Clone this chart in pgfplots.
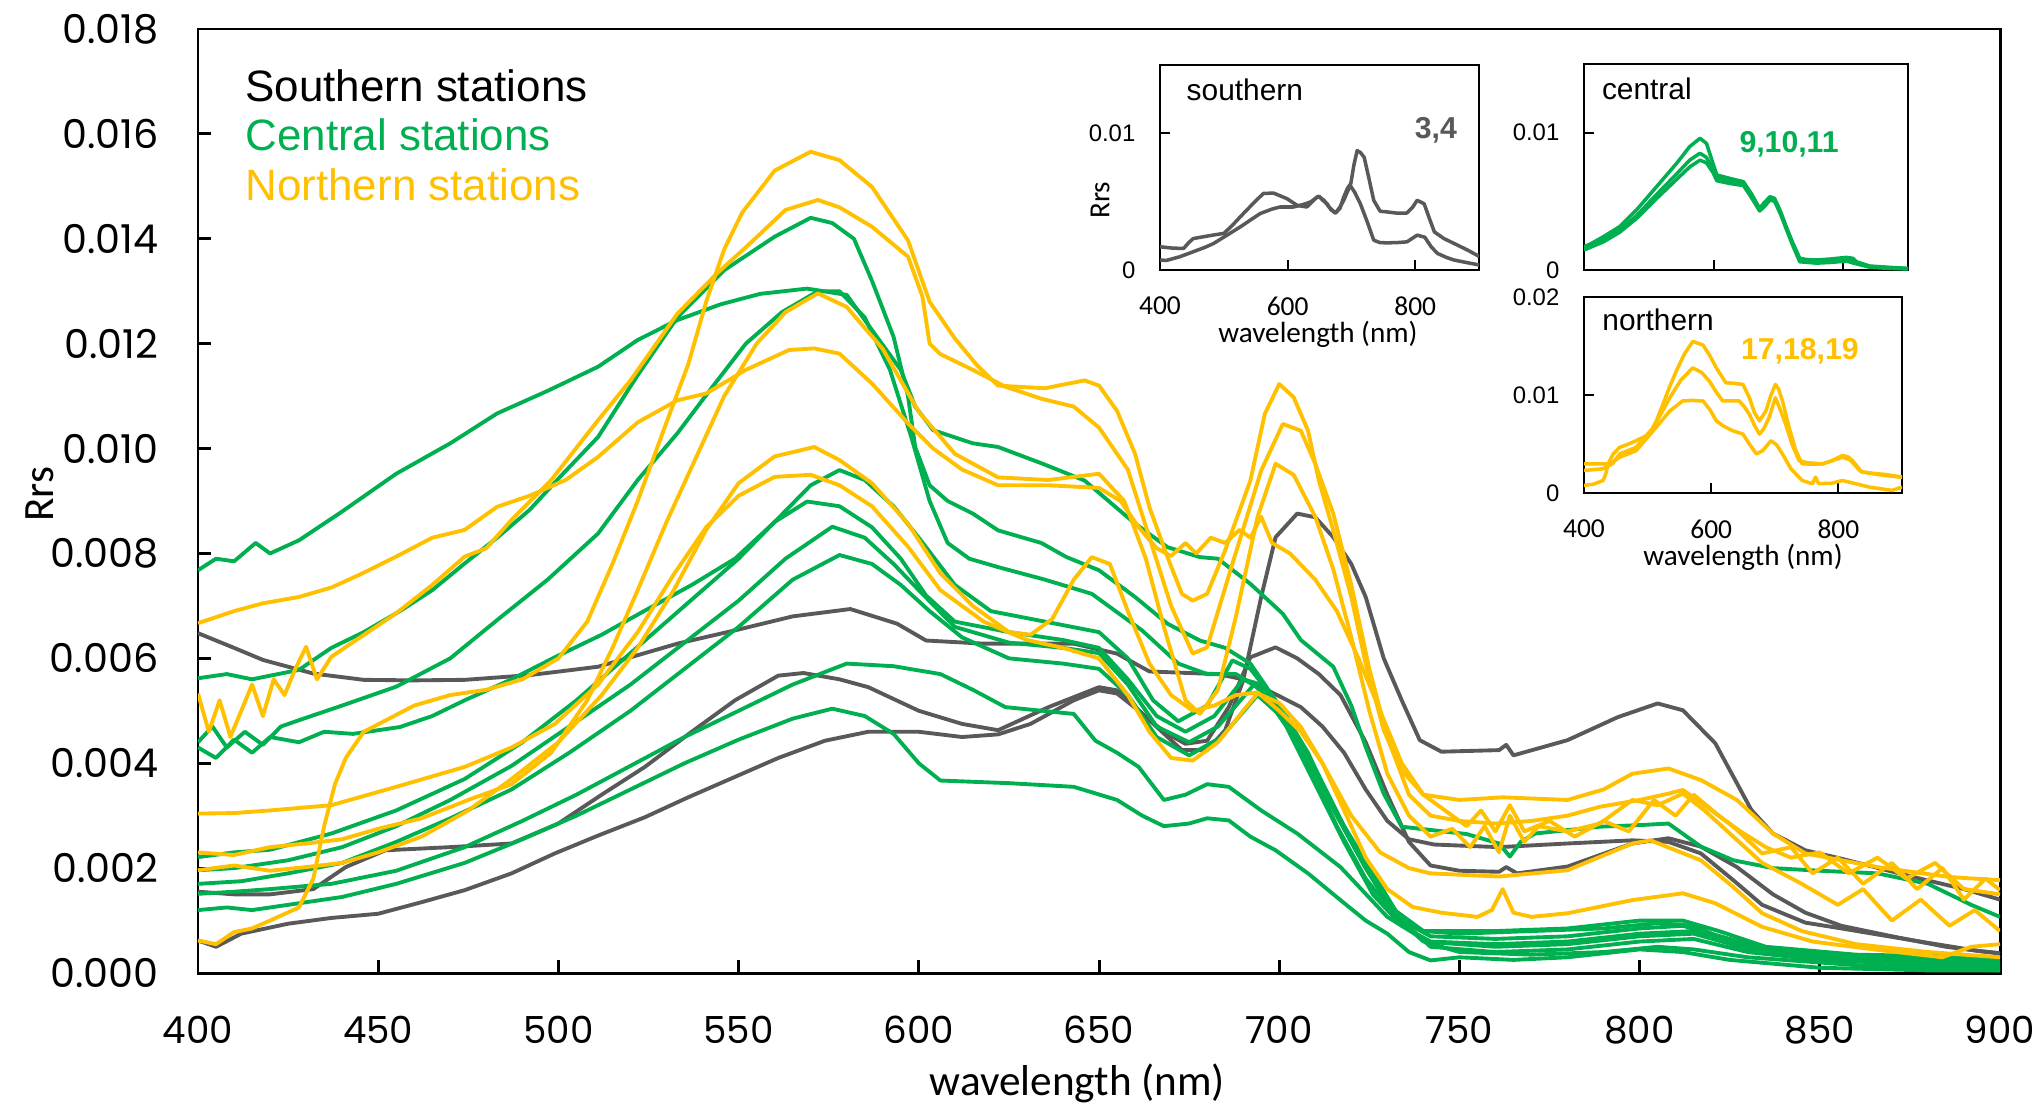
\documentclass[border=0pt]{standalone}
\usepackage{fontspec}
\usepackage{pgfplots}
\pgfplotsset{compat=1.18}
\setmainfont{Liberation Sans}
\newfontfamily\carl{Carlito}
\newfontfamily\pop{Poppins}
\definecolor{sgray}{RGB}{89,89,89}
\definecolor{cgreen}{RGB}{0,176,80}
\definecolor{nyellow}{RGB}{255,192,0}
\pgfplotsset{
  inset/.style={scale only axis, xmin=400, xmax=900, ymin=0,
    scaled y ticks=false, scaled x ticks=false,
    axis line style={line width=0.6pt}, tick align=inside,
    xtick pos=bottom, ytick pos=left,
    major tick length=1mm, tick style={black, line width=0.6pt},
    axis background/.style={fill=white},
    xtick={400,600,800},
    xticklabel style={anchor=center, inner sep=0pt, yshift=-3.6mm, font=\carl\fontsize{7.8}{9}\selectfont},
    yticklabel style={anchor=east, inner sep=0pt, xshift=-2.4mm, font=\fontsize{6.8}{8}\selectfont},
    every axis plot/.append style={line width=1pt, line join=round},
  },
}
\begin{document}
\begin{tikzpicture}
\useasboundingbox (-1.98cm,-1.34cm) rectangle (18.42cm,9.73cm);
\begin{axis}[scale only axis, at={(0cm,0cm)}, anchor=south west,
  width=18.02cm, height=9.44cm,
  xmin=400, xmax=900, ymin=0, ymax=0.018,
  xtick={400,450,500,550,600,650,700,750,800,850,900},
  ytick={0,0.002,0.004,0.006,0.008,0.010,0.012,0.014,0.016,0.018},
  scaled y ticks=false,
  axis line style={line width=0.85pt},
  tick align=inside, xtick pos=bottom, ytick pos=left,
  major tick length=1.3mm, tick style={black, line width=0.85pt},
  /pgf/number format/assume math mode=true,
  xticklabel style={anchor=center, inner sep=0pt, yshift=-5.7mm, font=\pop\fontsize{10.6}{12}\selectfont},
  yticklabel style={anchor=east, inner sep=0pt, xshift=-3.9mm, font=\pop\fontsize{11.3}{13}\selectfont,
     /pgf/number format/.cd, fixed, fixed zerofill, precision=3},
  xlabel={wavelength (nm)}, ylabel={Rrs},
  xlabel style={at={(axis description cs:0.488,-0.1165)}, anchor=center, font=\carl\fontsize{12.3}{14}\selectfont},
  ylabel style={at={(axis description cs:-0.088,0.507)}, anchor=center, rotate=0, font=\carl\fontsize{12.3}{14}\selectfont},
  every axis plot/.append style={line width=1.1pt, line join=round},
  clip=true,
]
% ---------------- southern (gray)
\addplot[sgray] coordinates {(400,6.48e-3)(410,6.2e-3)(418,5.97e-3)(432,5.71e-3)(446,5.59e-3)(460,5.58e-3)(474,5.59e-3)(492,5.68e-3)(511,5.84e-3)(533,6.28e-3)(550,6.55e-3)(565,6.8e-3)(581,6.94e-3)(594,6.66e-3)(602,6.34e-3)(618,6.28e-3)(643,6.28e-3)(655,6.09e-3)(664,5.75e-3)(675,5.72e-3)(683,5.7e-3)(690,5.6e-3)(698,5.35e-3)(706,5.07e-3)(712,4.7e-3)(718,4.2e-3)(724,3.5e-3)(730,2.9e-3)(736,2.55e-3)(743,2.45e-3)(761,2.4e-3)(780,2.47e-3)(798,2.53e-3)(808,2.5e-3)(817,2.28e-3)(826,1.77e-3)(834,1.3e-3)(846,0.96e-3)(856,0.85e-3)(876,0.62e-3)(894,0.42e-3)(900,0.38e-3)};
\addplot[sgray] coordinates {(400,1.55e-3)(410,1.5e-3)(420,1.5e-3)(432,1.6e-3)(441,2.02e-3)(452,2.34e-3)(470,2.4e-3)(487,2.47e-3)(500,2.85e-3)(512,3.4e-3)(524,3.93e-3)(537,4.6e-3)(549,5.2e-3)(561,5.67e-3)(568,5.72e-3)(578,5.6e-3)(586,5.45e-3)(600,5.0e-3)(612,4.75e-3)(622,4.63e-3)(636,5.07e-3)(650,5.45e-3)(655,5.39e-3)(664,4.82e-3)(673,4.25e-3)(680,4.25e-3)(685,4.63e-3)(690,5.58e-3)(695,7.17e-3)(699,8.31e-3)(705,8.76e-3)(710,8.69e-3)(715,8.31e-3)(720,7.8e-3)(724,7.17e-3)(729,6.0e-3)(734,5.2e-3)(739,4.44e-3)(745,4.22e-3)(761,4.25e-3)(763,4.35e-3)(765,4.15e-3)(780,4.44e-3)(794,4.88e-3)(805,5.14e-3)(812,5.01e-3)(821,4.38e-3)(831,3.11e-3)(837,2.66e-3)(846,2.34e-3)(856,2.18e-3)(876,1.83e-3)(890,1.6e-3)(900,1.4e-3)};
\addplot[sgray] coordinates {(400,0.62e-3)(405,0.5e-3)(412,0.75e-3)(425,0.94e-3)(437,1.05e-3)(450,1.13e-3)(462,1.35e-3)(474,1.58e-3)(487,1.9e-3)(499,2.28e-3)(511,2.62e-3)(524,2.97e-3)(536,3.35e-3)(549,3.74e-3)(561,4.1e-3)(574,4.43e-3)(586,4.6e-3)(600,4.6e-3)(612,4.5e-3)(622,4.55e-3)(631,4.75e-3)(643,5.2e-3)(650,5.39e-3)(655,5.33e-3)(662,4.95e-3)(668,4.6e-3)(674,4.37e-3)(680,4.43e-3)(686,5.07e-3)(692,6.02e-3)(699,6.21e-3)(705,6.0e-3)(711,5.7e-3)(717,5.3e-3)(724,4.4e-3)(730,3.4e-3)(736,2.5e-3)(742,2.05e-3)(750,1.95e-3)(761,1.93e-3)(763,2.02e-3)(766,1.9e-3)(780,2.03e-3)(798,2.47e-3)(808,2.57e-3)(817,2.41e-3)(827,2.02e-3)(837,1.5e-3)(846,1.15e-3)(856,0.9e-3)(870,0.7e-3)(885,0.5e-3)(900,0.37e-3)};
% ---------------- central (green)
\addplot[cgreen] coordinates {(400,7.68e-3)(405,7.9e-3)(410,7.85e-3)(416,8.2e-3)(420,8.0e-3)(428,8.25e-3)(440,8.8e-3)(455,9.52e-3)(470,10.1e-3)(483,10.67e-3)(497,11.1e-3)(511,11.56e-3)(522,12.07e-3)(533,12.45e-3)(545,12.75e-3)(556,12.95e-3)(569,13.05e-3)(580,12.93e-3)(587,12.26e-3)(595,11.5e-3)(599,10.8e-3)(604,10.35e-3)(615,10.1e-3)(622,10.03e-3)(634,9.72e-3)(646,9.39e-3)(660,8.57e-3)(669,8.12e-3)(678,7.93e-3)(683,7.9e-3)(692,7.42e-3)(701,6.85e-3)(706,6.35e-3)(715,5.84e-3)(720,5.1e-3)(724,4.31e-3)(729,3.42e-3)(734,2.79e-3)(743,2.72e-3)(752,2.65e-3)(761,2.47e-3)(764,2.22e-3)(767,2.5e-3)(771,2.66e-3)(789,2.79e-3)(800,2.82e-3)(808,2.85e-3)(817,2.41e-3)(826,2.15e-3)(837,2.0e-3)(850,1.95e-3)(866,1.9e-3)(880,1.7e-3)(892,1.3e-3)(900,1.07e-3)};
\addplot[cgreen] coordinates {(400,5.62e-3)(408,5.7e-3)(415,5.6e-3)(428,5.78e-3)(437,6.2e-3)(446,6.5e-3)(456,6.9e-3)(465,7.3e-3)(474,7.81e-3)(483,8.3e-3)(492,8.83e-3)(501,9.5e-3)(511,10.22e-3)(522,11.4e-3)(533,12.5e-3)(546,13.4e-3)(560,14.04e-3)(570,14.4e-3)(576,14.3e-3)(582,14.0e-3)(587,13.2e-3)(593,12.13e-3)(597,11.0e-3)(599,10.03e-3)(603,9.3e-3)(608,9.0e-3)(615,8.76e-3)(622,8.44e-3)(634,8.2e-3)(641,7.93e-3)(650,7.68e-3)(660,7.17e-3)(669,6.66e-3)(678,6.34e-3)(685,6.2e-3)(692,5.9e-3)(700,5.1e-3)(708,4.0e-3)(716,2.8e-3)(724,1.8e-3)(732,1.1e-3)(740,0.8e-3)(750,0.75e-3)(770,0.8e-3)(790,0.85e-3)(805,0.95e-3)(815,0.9e-3)(825,0.6e-3)(840,0.4e-3)(860,0.3e-3)(880,0.25e-3)(900,0.2e-3)};
\addplot[cgreen] coordinates {(400,4.4e-3)(404,4.7e-3)(408,4.3e-3)(413,4.6e-3)(418,4.35e-3)(423,4.7e-3)(428,4.82e-3)(440,5.1e-3)(455,5.46e-3)(470,6.0e-3)(483,6.73e-3)(497,7.5e-3)(511,8.38e-3)(522,9.4e-3)(533,10.29e-3)(543,11.2e-3)(552,12.0e-3)(562,12.6e-3)(572,13.0e-3)(578,13.0e-3)(585,12.5e-3)(592,11.5e-3)(598,10.2e-3)(603,9.0e-3)(608,8.2e-3)(614,7.9e-3)(622,7.74e-3)(635,7.5e-3)(648,7.23e-3)(662,6.53e-3)(672,5.9e-3)(680,5.7e-3)(688,5.7e-3)(695,5.4e-3)(702,4.7e-3)(710,3.6e-3)(718,2.5e-3)(726,1.5e-3)(734,0.9e-3)(742,0.6e-3)(760,0.55e-3)(780,0.6e-3)(800,0.75e-3)(815,0.8e-3)(830,0.45e-3)(850,0.3e-3)(875,0.2e-3)(900,0.15e-3)};
\addplot[cgreen] coordinates {(400,4.3e-3)(405,4.1e-3)(410,4.45e-3)(415,4.2e-3)(420,4.5e-3)(428,4.4e-3)(435,4.6e-3)(443,4.56e-3)(456,4.69e-3)(465,4.9e-3)(474,5.2e-3)(487,5.6e-3)(499,6.02e-3)(512,6.45e-3)(524,6.91e-3)(537,7.4e-3)(549,7.9e-3)(560,8.6e-3)(570,9.3e-3)(578,9.59e-3)(585,9.4e-3)(593,8.9e-3)(600,8.3e-3)(610,7.4e-3)(620,6.9e-3)(635,6.7e-3)(650,6.5e-3)(658,6.0e-3)(665,5.2e-3)(672,4.8e-3)(680,5.1e-3)(687,5.96e-3)(692,5.8e-3)(700,5.1e-3)(708,4.2e-3)(716,3.0e-3)(724,2.0e-3)(732,1.2e-3)(740,0.8e-3)(760,0.8e-3)(780,0.85e-3)(800,1.0e-3)(812,1.0e-3)(822,0.8e-3)(835,0.5e-3)(860,0.35e-3)(900,0.3e-3)};
\addplot[cgreen] coordinates {(400,2.21e-3)(410,2.3e-3)(420,2.35e-3)(437,2.66e-3)(455,3.1e-3)(474,3.7e-3)(490,4.4e-3)(505,5.2e-3)(520,6.1e-3)(535,7.0e-3)(550,7.9e-3)(560,8.6e-3)(569,8.99e-3)(578,8.9e-3)(587,8.5e-3)(595,7.9e-3)(602,7.2e-3)(610,6.7e-3)(625,6.5e-3)(640,6.35e-3)(650,6.2e-3)(658,5.6e-3)(666,4.9e-3)(674,4.6e-3)(682,4.9e-3)(690,5.6e-3)(695,5.5e-3)(702,4.9e-3)(710,3.9e-3)(718,2.8e-3)(726,1.8e-3)(734,1.0e-3)(742,0.7e-3)(760,0.65e-3)(780,0.7e-3)(800,0.85e-3)(812,0.9e-3)(825,0.65e-3)(840,0.4e-3)(870,0.3e-3)(900,0.25e-3)};
\addplot[cgreen] coordinates {(400,1.96e-3)(410,2.0e-3)(425,2.15e-3)(440,2.4e-3)(455,2.8e-3)(470,3.3e-3)(487,3.95e-3)(503,4.7e-3)(520,5.5e-3)(535,6.3e-3)(550,7.1e-3)(563,7.9e-3)(576,8.51e-3)(585,8.3e-3)(593,7.8e-3)(600,7.3e-3)(610,6.6e-3)(625,6.3e-3)(640,6.2e-3)(650,6.1e-3)(658,5.5e-3)(666,4.7e-3)(675,4.4e-3)(683,4.7e-3)(693,5.5e-3)(700,5.0e-3)(708,4.0e-3)(716,3.0e-3)(724,2.0e-3)(732,1.1e-3)(740,0.6e-3)(760,0.5e-3)(780,0.55e-3)(800,0.7e-3)(815,0.75e-3)(828,0.5e-3)(850,0.3e-3)(875,0.2e-3)(900,0.12e-3)};
\addplot[cgreen] coordinates {(400,1.7e-3)(412,1.75e-3)(425,1.9e-3)(440,2.1e-3)(455,2.5e-3)(470,2.95e-3)(487,3.5e-3)(503,4.2e-3)(520,5.0e-3)(535,5.8e-3)(550,6.6e-3)(565,7.5e-3)(578,7.97e-3)(587,7.8e-3)(595,7.4e-3)(603,6.9e-3)(612,6.4e-3)(625,6.0e-3)(640,5.9e-3)(650,5.8e-3)(658,5.3e-3)(666,4.5e-3)(675,4.15e-3)(684,4.5e-3)(694,5.3e-3)(702,4.8e-3)(710,3.8e-3)(718,2.8e-3)(726,1.9e-3)(734,1.0e-3)(742,0.5e-3)(760,0.4e-3)(780,0.45e-3)(800,0.6e-3)(815,0.65e-3)(830,0.4e-3)(850,0.25e-3)(900,0.1e-3)};
\addplot[cgreen] coordinates {(400,1.51e-3)(410,1.55e-3)(420,1.6e-3)(437,1.7e-3)(455,1.95e-3)(474,2.4e-3)(490,2.9e-3)(505,3.4e-3)(520,3.95e-3)(535,4.5e-3)(550,5.0e-3)(565,5.5e-3)(580,5.9e-3)(593,5.85e-3)(606,5.7e-3)(615,5.4e-3)(624,5.07e-3)(643,4.94e-3)(649,4.43e-3)(655,4.2e-3)(661,3.93e-3)(668,3.3e-3)(674,3.4e-3)(680,3.6e-3)(686,3.55e-3)(695,3.1e-3)(705,2.66e-3)(717,2.02e-3)(730,1.07e-3)(742,0.56e-3)(750,0.4e-3)(770,0.35e-3)(790,0.4e-3)(805,0.5e-3)(815,0.45e-3)(830,0.3e-3)(860,0.15e-3)(900,0.05e-3)};
\addplot[cgreen] coordinates {(400,1.2e-3)(408,1.25e-3)(415,1.2e-3)(425,1.3e-3)(440,1.45e-3)(455,1.7e-3)(474,2.1e-3)(490,2.55e-3)(505,3.0e-3)(520,3.5e-3)(535,4.0e-3)(550,4.45e-3)(565,4.85e-3)(576,5.04e-3)(585,4.9e-3)(593,4.56e-3)(600,4.0e-3)(606,3.67e-3)(625,3.62e-3)(643,3.55e-3)(655,3.3e-3)(662,3.0e-3)(668,2.8e-3)(675,2.85e-3)(680,2.95e-3)(686,2.91e-3)(692,2.6e-3)(699,2.34e-3)(708,1.9e-3)(717,1.39e-3)(724,1.0e-3)(730,0.75e-3)(736,0.4e-3)(742,0.24e-3)(750,0.3e-3)(765,0.25e-3)(780,0.3e-3)(800,0.45e-3)(812,0.4e-3)(825,0.25e-3)(850,0.1e-3)(880,0.05e-3)(900,0.05e-3)};
% ---------------- northern (yellow)
\addplot[nyellow] coordinates {(400,0.62e-3)(405,0.55e-3)(410,0.78e-3)(415,0.85e-3)(420,1.0e-3)(428,1.25e-3)(432,1.8e-3)(435,2.8e-3)(438,3.6e-3)(441,4.1e-3)(446,4.6e-3)(453,4.85e-3)(460,5.1e-3)(470,5.3e-3)(480,5.4e-3)(490,5.6e-3)(500,6.0e-3)(508,6.7e-3)(515,7.8e-3)(522,9.0e-3)(530,10.5e-3)(536,11.6e-3)(541,12.8e-3)(546,13.8e-3)(551,14.5e-3)(560,15.3e-3)(570,15.66e-3)(578,15.5e-3)(587,14.99e-3)(597,13.97e-3)(603,12.8e-3)(610,12.1e-3)(616,11.6e-3)(622,11.2e-3)(635,11.15e-3)(646,11.3e-3)(650,11.2e-3)(655,10.72e-3)(660,9.9e-3)(664,8.88e-3)(669,7.93e-3)(673,7.23e-3)(676,7.1e-3)(680,7.23e-3)(685,8.06e-3)(692,9.39e-3)(696,10.66e-3)(700,11.23e-3)(704,10.98e-3)(708,10.34e-3)(711,9.39e-3)(715,8.44e-3)(720,7.17e-3)(724,5.9e-3)(729,4.63e-3)(734,3.86e-3)(740,3.4e-3)(750,3.3e-3)(762,3.35e-3)(780,3.3e-3)(790,3.5e-3)(798,3.8e-3)(808,3.9e-3)(817,3.68e-3)(827,3.3e-3)(837,2.66e-3)(846,2.28e-3)(866,2.02e-3)(886,1.83e-3)(900,1.77e-3)};
\addplot[nyellow] coordinates {(400,5.33e-3)(403,4.6e-3)(406,5.2e-3)(409,4.5e-3)(412,5.0e-3)(415,5.5e-3)(418,4.9e-3)(421,5.6e-3)(424,5.3e-3)(427,5.8e-3)(430,6.22e-3)(433,5.6e-3)(437,6.03e-3)(445,6.4e-3)(455,6.86e-3)(465,7.4e-3)(474,7.94e-3)(480,8.1e-3)(487,8.64e-3)(498,9.4e-3)(511,10.54e-3)(520,11.3e-3)(533,12.57e-3)(544,13.34e-3)(553,13.9e-3)(563,14.55e-3)(572,14.74e-3)(578,14.6e-3)(587,14.23e-3)(597,13.66e-3)(601,12.9e-3)(603,12.0e-3)(606,11.8e-3)(615,11.5e-3)(624,11.18e-3)(634,10.95e-3)(643,10.8e-3)(650,10.4e-3)(658,9.6e-3)(664,8.3e-3)(670,7.0e-3)(676,6.09e-3)(680,6.21e-3)(687,7.8e-3)(695,9.58e-3)(701,10.47e-3)(706,10.34e-3)(710,9.71e-3)(715,8.76e-3)(720,7.4e-3)(725,5.8e-3)(730,4.5e-3)(736,3.4e-3)(742,3.0e-3)(750,2.9e-3)(760,2.85e-3)(770,2.9e-3)(780,3.0e-3)(789,3.17e-3)(800,3.3e-3)(808,3.42e-3)(812,3.49e-3)(818,3.2e-3)(826,2.79e-3)(834,2.28e-3)(842,2.4e-3)(848,1.9e-3)(855,2.2e-3)(862,1.7e-3)(870,2.1e-3)(877,1.6e-3)(884,2.0e-3)(890,1.4e-3)(896,1.8e-3)(900,1.58e-3)};
\addplot[nyellow] coordinates {(400,2.3e-3)(410,2.25e-3)(420,2.4e-3)(430,2.47e-3)(440,2.55e-3)(450,2.75e-3)(462,2.95e-3)(475,3.3e-3)(487,3.6e-3)(498,4.2e-3)(508,5.2e-3)(515,6.2e-3)(522,7.3e-3)(530,8.6e-3)(538,9.8e-3)(546,11.0e-3)(555,12.0e-3)(563,12.6e-3)(572,12.96e-3)(580,12.7e-3)(590,11.9e-3)(600,10.7e-3)(610,9.9e-3)(622,9.45e-3)(636,9.4e-3)(650,9.52e-3)(657,9.0e-3)(663,7.9e-3)(668,6.6e-3)(674,5.2e-3)(678,4.94e-3)(683,5.4e-3)(688,6.8e-3)(694,8.7e-3)(699,9.71e-3)(704,9.5e-3)(710,8.7e-3)(715,7.7e-3)(720,6.4e-3)(725,5.0e-3)(730,3.8e-3)(736,3.0e-3)(742,2.6e-3)(748,2.75e-3)(753,2.4e-3)(757,2.8e-3)(761,2.3e-3)(764,3.0e-3)(768,2.5e-3)(772,2.8e-3)(780,2.7e-3)(789,2.85e-3)(798,3.3e-3)(805,3.2e-3)(812,3.42e-3)(818,3.1e-3)(826,2.6e-3)(834,2.1e-3)(845,1.7e-3)(855,1.3e-3)(862,1.6e-3)(870,1.0e-3)(878,1.4e-3)(886,0.9e-3)(893,1.2e-3)(900,0.8e-3)};
\addplot[nyellow] coordinates {(400,6.67e-3)(410,6.9e-3)(418,7.05e-3)(428,7.17e-3)(437,7.35e-3)(445,7.6e-3)(455,7.94e-3)(465,8.3e-3)(474,8.45e-3)(483,8.89e-3)(492,9.1e-3)(502,9.4e-3)(511,9.84e-3)(522,10.5e-3)(533,10.92e-3)(541,11.05e-3)(552,11.5e-3)(564,11.88e-3)(571,11.91e-3)(578,11.81e-3)(587,11.24e-3)(597,10.48e-3)(604,10.0e-3)(612,9.6e-3)(622,9.3e-3)(636,9.3e-3)(650,9.25e-3)(656,9.0e-3)(661,8.5e-3)(666,8.1e-3)(670,7.95e-3)(674,8.2e-3)(677,8.0e-3)(681,8.3e-3)(685,8.2e-3)(689,8.45e-3)(692,8.3e-3)(695,8.7e-3)(698,8.2e-3)(703,8.0e-3)(710,7.5e-3)(716,6.9e-3)(722,6.0e-3)(728,5.0e-3)(734,4.0e-3)(740,3.4e-3)(746,3.1e-3)(752,2.8e-3)(756,3.1e-3)(760,2.7e-3)(764,3.2e-3)(768,2.7e-3)(775,2.9e-3)(782,2.6e-3)(790,2.9e-3)(797,2.7e-3)(804,3.3e-3)(810,3.0e-3)(815,3.4e-3)(822,3.0e-3)(828,2.7e-3)(835,2.4e-3)(842,2.2e-3)(850,2.3e-3)(858,1.9e-3)(866,2.2e-3)(874,1.8e-3)(882,2.1e-3)(890,1.6e-3)(900,1.5e-3)};
\addplot[nyellow] coordinates {(400,1.96e-3)(410,2.05e-3)(420,1.95e-3)(430,2.02e-3)(440,2.1e-3)(450,2.3e-3)(462,2.6e-3)(475,3.1e-3)(487,3.7e-3)(500,4.4e-3)(512,5.3e-3)(522,6.2e-3)(532,7.3e-3)(541,8.45e-3)(550,9.34e-3)(560,9.85e-3)(571,10.03e-3)(578,9.78e-3)(587,9.34e-3)(597,8.57e-3)(606,7.62e-3)(615,7.0e-3)(625,6.5e-3)(631,6.45e-3)(637,6.75e-3)(643,7.5e-3)(648,7.93e-3)(653,7.8e-3)(658,6.9e-3)(664,5.9e-3)(670,5.3e-3)(676,5.0e-3)(682,5.1e-3)(688,5.3e-3)(694,5.35e-3)(700,5.0e-3)(706,4.6e-3)(712,4.0e-3)(720,3.0e-3)(728,2.3e-3)(736,2.0e-3)(742,1.9e-3)(761,1.84e-3)(780,1.96e-3)(798,2.47e-3)(803,2.53e-3)(817,2.15e-3)(826,1.64e-3)(834,1.14e-3)(845,0.8e-3)(860,0.55e-3)(880,0.4e-3)(900,0.3e-3)};
\addplot[nyellow] coordinates {(400,3.04e-3)(410,3.05e-3)(420,3.1e-3)(437,3.2e-3)(455,3.55e-3)(474,3.93e-3)(487,4.3e-3)(499,4.75e-3)(511,5.5e-3)(522,6.5e-3)(532,7.6e-3)(541,8.5e-3)(550,9.1e-3)(560,9.46e-3)(570,9.5e-3)(578,9.3e-3)(587,8.9e-3)(597,8.13e-3)(606,7.3e-3)(618,6.7e-3)(630,6.35e-3)(640,6.2e-3)(650,6.0e-3)(658,5.3e-3)(664,4.6e-3)(670,4.1e-3)(676,4.05e-3)(683,4.4e-3)(690,5.0e-3)(694,5.33e-3)(700,5.15e-3)(706,4.69e-3)(712,4.0e-3)(718,3.1e-3)(724,2.2e-3)(730,1.6e-3)(737,1.26e-3)(745,1.15e-3)(755,1.07e-3)(759,1.2e-3)(762,1.6e-3)(765,1.15e-3)(770,1.07e-3)(780,1.14e-3)(798,1.39e-3)(812,1.52e-3)(821,1.33e-3)(834,0.88e-3)(848,0.6e-3)(865,0.45e-3)(884,0.3e-3)(892,0.5e-3)(900,0.55e-3)};
% legend text
\node[anchor=west, inner sep=0pt, font=\fontsize{12.5}{14}\selectfont, text=black] at (rel axis cs:0.026,0.9396) {Southern stations};
\node[anchor=west, inner sep=0pt, font=\fontsize{12.5}{14}\selectfont, text=cgreen] at (rel axis cs:0.026,0.8877) {Central stations};
\node[anchor=west, inner sep=0pt, font=\fontsize{12.5}{14}\selectfont, text=nyellow] at (rel axis cs:0.026,0.8347) {Northern stations};
\end{axis}
% ---------------- southern inset
\begin{axis}[inset, at={(9.62cm,7.03cm)}, anchor=south west, width=3.19cm, height=2.05cm,
  ymax=0.015, ytick={0,0.01}, yticklabels={0,0.01}, xticklabels={400,600,800},
  xlabel={wavelength (nm)}, ylabel={Rrs},
  xlabel style={at={(axis description cs:0.495,-0.315)}, anchor=center, font=\carl\fontsize{8.3}{9}\selectfont},
  ylabel style={at={(axis description cs:-0.188,0.34)}, anchor=center, font=\carl\fontsize{8.3}{9}\selectfont},
]
\addplot[sgray] coordinates {(400,1.7e-3)(420,1.6e-3)(437,1.58e-3)(445,2.0e-3)(452,2.3e-3)(470,2.45e-3)(484,2.56e-3)(500,2.68e-3)(512,3.2e-3)(526,3.9e-3)(546,4.87e-3)(562,5.6e-3)(578,5.63e-3)(599,5.22e-3)(615,4.73e-3)(630,4.61e-3)(646,5.34e-3)(650,5.35e-3)(657,5.1e-3)(665,4.6e-3)(675,4.17e-3)(682,4.5e-3)(688,5.34e-3)(694,6.0e-3)(699,6.31e-3)(704,7.7e-3)(709,8.74e-3)(714,8.6e-3)(720,8.25e-3)(727,6.8e-3)(735,5.1e-3)(745,4.3e-3)(756,4.25e-3)(770,4.17e-3)(787,4.17e-3)(796,4.6e-3)(803,5.1e-3)(814,4.85e-3)(822,3.8e-3)(830,2.79e-3)(845,2.3e-3)(861,1.94e-3)(882,1.46e-3)(900,1.0e-3)};
\addplot[sgray] coordinates {(400,0.73e-3)(410,0.7e-3)(431,0.97e-3)(450,1.3e-3)(470,1.65e-3)(484,1.94e-3)(505,2.55e-3)(526,3.16e-3)(540,3.6e-3)(557,4.13e-3)(575,4.45e-3)(588,4.61e-3)(609,4.61e-3)(625,4.8e-3)(636,4.98e-3)(649,5.41e-3)(655,5.1e-3)(662,4.85e-3)(668,4.4e-3)(675,4.17e-3)(682,4.6e-3)(688,5.1e-3)(698,6.19e-3)(705,5.7e-3)(714,4.85e-3)(725,3.5e-3)(735,2.18e-3)(745,2.0e-3)(756,1.99e-3)(770,2.0e-3)(787,2.06e-3)(803,2.55e-3)(815,2.4e-3)(825,1.7e-3)(835,1.21e-3)(850,0.9e-3)(861,0.73e-3)(880,0.55e-3)(900,0.37e-3)};
\node[font=\fontsize{8.5}{10}\selectfont] at (axis description cs:0.266,0.878) {southern};
\node[font=\bfseries\fontsize{8.6}{10}\selectfont, text=sgray] at (axis description cs:0.865,0.683) {3,4};
\end{axis}
% ---------------- central inset
\begin{axis}[inset, at={(13.86cm,7.03cm)}, anchor=south west, width=3.24cm, height=2.06cm,
  ymax=0.015, ytick={0,0.01}, yticklabels={0,0.01}, xticklabels={},
]
\addplot[cgreen] coordinates {(400,1.7e-3)(410,1.9e-3)(430,2.43e-3)(455,3.16e-3)(481,4.37e-3)(512,6.07e-3)(543,7.77e-3)(563,8.98e-3)(579,9.59e-3)(589,9.22e-3)(599,7.77e-3)(605,6.92e-3)(625,6.67e-3)(646,6.43e-3)(658,5.58e-3)(671,4.49e-3)(678,4.9e-3)(687,5.34e-3)(694,5.22e-3)(703,4.3e-3)(712,3.16e-3)(722,2.0e-3)(733,0.85e-3)(745,0.75e-3)(759,0.73e-3)(780,0.8e-3)(805,0.92e-3)(815,0.85e-3)(820,0.61e-3)(841,0.29e-3)(870,0.2e-3)(900,0.12e-3)};
\addplot[cgreen] coordinates {(400,1.58e-3)(430,2.2e-3)(455,2.9e-3)(481,3.95e-3)(512,5.5e-3)(543,7.0e-3)(563,8.0e-3)(579,8.5e-3)(589,8.2e-3)(599,7.3e-3)(605,6.7e-3)(625,6.45e-3)(646,6.25e-3)(658,5.45e-3)(671,4.4e-3)(678,4.7e-3)(687,5.2e-3)(694,5.1e-3)(703,4.2e-3)(712,3.1e-3)(722,1.9e-3)(733,0.7e-3)(759,0.6e-3)(780,0.65e-3)(805,0.75e-3)(820,0.5e-3)(841,0.25e-3)(870,0.15e-3)(900,0.1e-3)};
\addplot[cgreen] coordinates {(400,1.46e-3)(430,2.05e-3)(455,2.75e-3)(481,3.75e-3)(512,5.2e-3)(543,6.6e-3)(563,7.5e-3)(579,8.0e-3)(589,7.8e-3)(599,7.1e-3)(605,6.5e-3)(625,6.3e-3)(646,6.15e-3)(658,5.3e-3)(671,4.3e-3)(678,4.6e-3)(687,5.1e-3)(694,5.0e-3)(703,4.1e-3)(712,3.0e-3)(722,1.8e-3)(733,0.6e-3)(759,0.5e-3)(780,0.55e-3)(805,0.65e-3)(820,0.45e-3)(841,0.2e-3)(870,0.12e-3)(900,0.08e-3)};
\node[font=\fontsize{8.5}{10}\selectfont] at (axis description cs:0.194,0.879) {central};
\node[font=\bfseries\fontsize{8.6}{10}\selectfont, text=cgreen] at (axis description cs:0.633,0.612) {9,10,11};
\end{axis}
% ---------------- northern inset
\begin{axis}[inset, at={(13.86cm,4.80cm)}, anchor=south west, width=3.18cm, height=1.96cm,
  ymax=0.02, ytick={0,0.01,0.02}, yticklabels={0,0.01,0.02}, xticklabels={400,600,800},
  xlabel={wavelength (nm)},
  xlabel style={at={(axis description cs:0.5,-0.33)}, anchor=center, font=\carl\fontsize{8.3}{9}\selectfont},
]
\addplot[nyellow] coordinates {(400,0.78e-3)(415,0.9e-3)(430,1.28e-3)(434,1.9e-3)(438,2.97e-3)(446,4.0e-3)(456,4.66e-3)(470,5.0e-3)(482,5.34e-3)(503,6.0e-3)(514,7.4e-3)(524,9.05e-3)(535,10.9e-3)(545,12.43e-3)(558,14.2e-3)(571,15.47e-3)(587,15.1e-3)(598,14.0e-3)(608,12.77e-3)(623,11.25e-3)(635,11.2e-3)(650,11.08e-3)(660,9.73e-3)(668,8.2e-3)(676,7.36e-3)(686,8.38e-3)(694,10.0e-3)(701,11.08e-3)(706,10.6e-3)(712,9.39e-3)(722,6.8e-3)(733,4.32e-3)(743,2.97e-3)(760,2.95e-3)(775,2.97e-3)(790,3.3e-3)(806,3.82e-3)(815,3.7e-3)(822,3.31e-3)(837,2.13e-3)(855,2.0e-3)(874,1.89e-3)(900,1.62e-3)};
\addplot[nyellow] coordinates {(400,2.3e-3)(430,2.47e-3)(445,3.0e-3)(456,3.99e-3)(482,4.66e-3)(509,6.69e-3)(522,8.2e-3)(535,9.73e-3)(552,11.5e-3)(571,12.77e-3)(585,12.3e-3)(597,11.42e-3)(608,10.3e-3)(618,9.39e-3)(644,9.39e-3)(652,8.8e-3)(660,8.04e-3)(668,6.9e-3)(676,6.01e-3)(683,6.6e-3)(691,7.7e-3)(701,9.73e-3)(708,8.6e-3)(717,7.03e-3)(727,5.0e-3)(738,3.31e-3)(750,3.1e-3)(775,2.97e-3)(806,3.65e-3)(818,3.4e-3)(835,2.2e-3)(860,1.9e-3)(900,1.6e-3)};
\addplot[nyellow] coordinates {(400,2.97e-3)(441,2.97e-3)(456,3.65e-3)(482,4.32e-3)(509,6.35e-3)(535,8.38e-3)(555,9.39e-3)(570,9.45e-3)(587,9.39e-3)(598,8.5e-3)(608,7.36e-3)(620,6.8e-3)(634,6.35e-3)(650,6.01e-3)(660,5.0e-3)(671,3.99e-3)(681,4.32e-3)(694,5.34e-3)(703,4.9e-3)(712,3.99e-3)(725,2.5e-3)(743,1.28e-3)(759,0.95e-3)(764,1.62e-3)(769,0.95e-3)(790,1.0e-3)(806,1.28e-3)(827,0.95e-3)(848,0.61e-3)(870,0.4e-3)(884,0.27e-3)(900,0.6e-3)};
\node[font=\fontsize{8.5}{10}\selectfont] at (axis description cs:0.233,0.883) {northern};
\node[font=\bfseries\fontsize{8.6}{10}\selectfont, text=nyellow] at (axis description cs:0.679,0.724) {17,18,19};
\end{axis}
\end{tikzpicture}
\end{document}
